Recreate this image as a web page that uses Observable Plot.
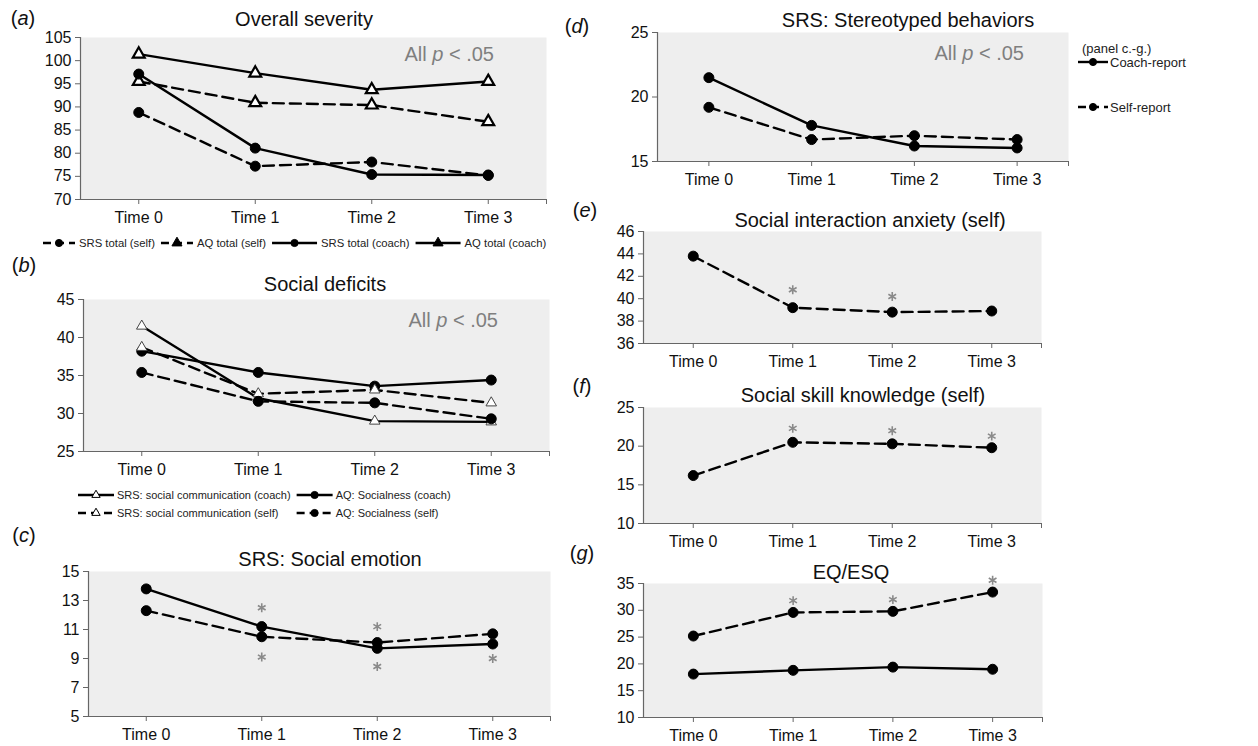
<!DOCTYPE html>
<html><head><meta charset="utf-8">
<script src="https://cdn.jsdelivr.net/npm/d3@7"></script>
<script src="https://cdn.jsdelivr.net/npm/@observablehq/plot@0.6"></script>
<style>
body{margin:0;background:#fff;}
#page{position:relative;width:1258px;height:746px;overflow:hidden;font-family:"Liberation Sans",Arial,sans-serif;background:#fff;}
.abs{position:absolute;white-space:nowrap;line-height:1;transform:translate(-50%,-50%);color:#111;}
.title{font-size:20px;}
.letter{font-size:20px;}
.note{font-size:20px;color:#7f7f7f;transform:translate(-100%,-50%);}
</style></head><body><div id="page"></div>
<script>
// ---------- data ----------
const times = ["Time 0", "Time 1", "Time 2", "Time 3"];
// (a) Overall severity
const srsTotalSelf  = [88.8, 77.2, 78.1, 75.2];
const aqTotalSelf   = [95.5, 90.9, 90.4, 86.8];
const srsTotalCoach = [97.1, 81.1, 75.4, 75.3];
const aqTotalCoach  = [101.4, 97.3, 93.7, 95.5];
// (b) Social deficits
const srsCommCoach  = [41.5, 32.0, 29.0, 28.9];
const aqSocialCoach = [38.2, 35.4, 33.6, 34.4];
const srsCommSelf   = [38.7, 32.6, 33.1, 31.4];
const aqSocialSelf  = [35.4, 31.6, 31.4, 29.3];
// (c) SRS: Social emotion
const emotionCoach = [13.8, 11.2, 9.7, 10.0];
const emotionSelf  = [12.3, 10.5, 10.1, 10.7];
const emotionStars = [[1, 12.5], [1, 9.1], [2, 11.2], [2, 8.45], [3, 9.0]];
// (d) SRS: Stereotyped behaviors
const stereoCoach = [21.5, 17.8, 16.2, 16.05];
const stereoSelf  = [19.2, 16.7, 17.0, 16.7];
// (e) Social interaction anxiety (self)
const anxietySelf  = [43.8, 39.2, 38.8, 38.9];
const anxietyStars = [[1, 40.8], [2, 40.2]];
// (f) Social skill knowledge (self)
const knowledgeSelf  = [16.2, 20.5, 20.3, 19.8];
const knowledgeStars = [[1, 22.3], [2, 22.0], [3, 21.3]];
// (g) EQ/ESQ
const eqCoach = [18.1, 18.8, 19.4, 19.0];
const eqSelf  = [25.2, 29.6, 29.8, 33.4];
const eqStars = [[1, 31.8], [2, 32.0], [3, 35.6]];

// legend labels
const legendA = ["SRS total (self)", "AQ total (self)", "SRS total (coach)", "AQ total (coach)"];
const legendB = ["SRS: social communication (coach)", "AQ: Socialness (coach)", "SRS: social communication (self)", "AQ: Socialness (self)"];
const legendRight = ["(panel c.-g.)", "Coach-report", "Self-report"];

// ---------- drawing ----------
const page = document.getElementById("page");
const FONT = '"Liberation Sans", Arial, sans-serif';
const DASH = "11,6";

function addText(cls, html, x, y) {
  const d = document.createElement("div");
  d.className = "abs " + cls;
  d.innerHTML = html;
  d.style.left = x + "px";
  d.style.top = y + "px";
  page.appendChild(d);
}

function drawPanel(p) {
  const mL = 60, mR = 16, mT = 18, mB = 36;
  const W = p.right - p.left + mL + mR, H = p.bottom - p.top + mT + mB;
  const marks = [
    Plot.frame({fill: "#eeeeee", stroke: "none"}),
    Plot.ruleX([-0.5], {stroke: "#666", strokeWidth: 1.2}),
    Plot.ruleY([p.ydomain[0]], {stroke: "#666", strokeWidth: 1.2}),
    Plot.axisY({ticks: p.yticks, tickSize: 5, tickPadding: 4, fontSize: 16, stroke: "#666", fill: "#111"}),
    Plot.axisX({ticks: [0, 1, 2, 3, 3.5], tickFormat: d => times[d] ?? "", tickSize: 5, tickPadding: 7, fontSize: 16, stroke: "#666", fill: "#111"})
  ];
  for (const s of p.series) {
    const lo = {x: (d, i) => i, y: d => d, stroke: "#000", strokeWidth: 2.4};
    if (s.dashed) lo.strokeDasharray = DASH;
    marks.push(Plot.line(s.values, lo));
  }
  for (const s of p.series) {
    marks.push(Plot.dot(s.values, {x: (d, i) => i, y: d => d, symbol: s.symbol || "circle", r: s.r || 5,
      fill: s.fill || "#000", stroke: s.stroke || "#000", strokeWidth: s.sw ?? 1}));
  }
  if (p.stars) marks.push(Plot.dot(p.stars, {x: d => d[0], y: d => d[1], symbol: "asterisk", r: 4.2, stroke: "#8a8a8a", strokeWidth: 1.6}));
  const svg = Plot.plot({
    width: W, height: H, marginLeft: mL, marginRight: mR, marginTop: mT, marginBottom: mB,
    x: {domain: [-0.5, 3.5]},
    y: {domain: p.ydomain},
    style: {fontFamily: FONT, fontSize: "16px", background: "transparent", overflow: "visible", color: "#111"},
    marks
  });
  svg.style.position = "absolute";
  svg.style.left = (p.left - mL) + "px";
  svg.style.top = (p.top - mT) + "px";
  page.appendChild(svg);
}

const tri = {symbol: "triangle", r: 4.4, fill: "#fff", stroke: "#000", sw: 2.2};
const triOpen = {symbol: "triangle", r: 3.9, fill: "#fff", stroke: "#444", sw: 1};

drawPanel({left: 80, right: 546, top: 37, bottom: 199, ydomain: [70, 105], yticks: d3.range(70, 106, 5),
  series: [
    {values: aqTotalCoach, ...tri},
    {values: aqTotalSelf, dashed: true, ...tri},
    {values: srsTotalCoach},
    {values: srsTotalSelf, dashed: true}
  ]});
drawPanel({left: 83, right: 549, top: 299, bottom: 451, ydomain: [25, 45], yticks: d3.range(25, 46, 5),
  series: [
    {values: srsCommCoach, ...triOpen},
    {values: aqSocialCoach},
    {values: srsCommSelf, dashed: true, ...triOpen},
    {values: aqSocialSelf, dashed: true}
  ]});
drawPanel({left: 88, right: 550, top: 571, bottom: 716, ydomain: [5, 15], yticks: d3.range(5, 16, 2),
  series: [{values: emotionCoach}, {values: emotionSelf, dashed: true}], stars: emotionStars});
drawPanel({left: 657, right: 1068, top: 32, bottom: 161, ydomain: [15, 25], yticks: [15, 20, 25],
  series: [{values: stereoCoach}, {values: stereoSelf, dashed: true}]});
drawPanel({left: 643, right: 1041, top: 231, bottom: 343, ydomain: [36, 46], yticks: d3.range(36, 47, 2),
  series: [{values: anxietySelf, dashed: true}], stars: anxietyStars});
drawPanel({left: 643, right: 1041, top: 407, bottom: 523, ydomain: [10, 25], yticks: d3.range(10, 26, 5),
  series: [{values: knowledgeSelf, dashed: true}], stars: knowledgeStars});
drawPanel({left: 643, right: 1042, top: 583, bottom: 717, ydomain: [10, 35], yticks: d3.range(10, 36, 5),
  series: [{values: eqCoach}, {values: eqSelf, dashed: true}], stars: eqStars});

// titles, letters, notes
addText("title", "Overall severity", 304, 19);
addText("title", "Social deficits", 325, 284);
addText("title", "SRS: Social emotion", 330, 559);
addText("title", "SRS: Stereotyped behaviors", 908, 20);
addText("title", "Social interaction anxiety (self)", 870, 220);
addText("title", "Social skill knowledge (self)", 863, 395);
addText("title", "EQ/ESQ", 851, 572);
addText("letter", "(<i>a</i>)", 23, 18);
addText("letter", "(<i>b</i>)", 24, 265);
addText("letter", "(<i>c</i>)", 24, 535);
addText("letter", "(<i>d</i>)", 577, 26);
addText("letter", "(<i>e</i>)", 585, 210);
addText("letter", "(<i>f</i>)", 582, 386);
addText("letter", "(<i>g</i>)", 582, 553);
addText("note", "All <i>p</i> &lt; .05", 494, 54);
addText("note", "All <i>p</i> &lt; .05", 498, 320);
addText("note", "All <i>p</i> &lt; .05", 1024, 53);

// legends (overlay svg)
const ov = d3.select(page).append("svg").attr("width", 1258).attr("height", 746)
  .style("position", "absolute").style("left", 0).style("top", 0).style("pointer-events", "none")
  .style("font-family", FONT);

function sample(x, y, w, dashed, sym, symStyle) {
  ov.append("line").attr("x1", x).attr("x2", x + w).attr("y1", y).attr("y2", y)
    .attr("stroke", "#000").attr("stroke-width", 2.4).attr("stroke-dasharray", dashed ? "8,5" : null);
  const size = sym === "tri" ? (symStyle && symStyle.open ? 30 : 44) : 40;
  ov.append("path").attr("transform", `translate(${x + w / 2},${y})`)
    .attr("d", d3.symbol(sym === "tri" ? d3.symbolTriangle : d3.symbolCircle, size)())
    .attr("fill", symStyle && symStyle.open ? "#fff" : "#000")
    .attr("stroke", "#000").attr("stroke-width", 1);
}
function label(x, y, text, size) {
  return ov.append("text").attr("x", x).attr("y", y).attr("dy", "0.35em")
    .attr("font-size", size).attr("fill", "#222").text(text);
}

// legend (a): sequential layout
{
  let x = 43; const y = 243, fs = 11.3;
  const specs = [[true, "circ", 32], [true, "tri", 32], [false, "circ", 45], [false, "tri", 45]];
  specs.forEach(([dashed, sym, sw], i) => {
    sample(x, y, sw, dashed, sym);
    const t = label(x + sw + 4, y, legendA[i], fs);
    x += sw + 4 + t.node().getComputedTextLength() + 6;
  });
}
// legend (b)
{
  const fs = 11, sw = 36;
  const rows = [[495, false], [513, true]];
  let x2 = 0;
  rows.forEach(([y, dashed], r) => {
    sample(78, y, sw, dashed, "tri", {open: true});
    const t = label(78 + sw + 3, y, legendB[r * 2], fs);
    x2 = Math.max(x2, 78 + sw + 3 + t.node().getComputedTextLength() + 6);
  });
  rows.forEach(([y, dashed], r) => {
    sample(x2, y, sw, dashed, "circ");
    label(x2 + sw + 3, y, legendB[r * 2 + 1], fs);
  });
}
// right legend
label(1082, 48, legendRight[0], 13);
sample(1078, 62, 30, false, "circ");
label(1110, 62, legendRight[1], 13);
sample(1078, 107, 30, true, "circ");
label(1110, 107, legendRight[2], 13);
</script>
</body></html>
